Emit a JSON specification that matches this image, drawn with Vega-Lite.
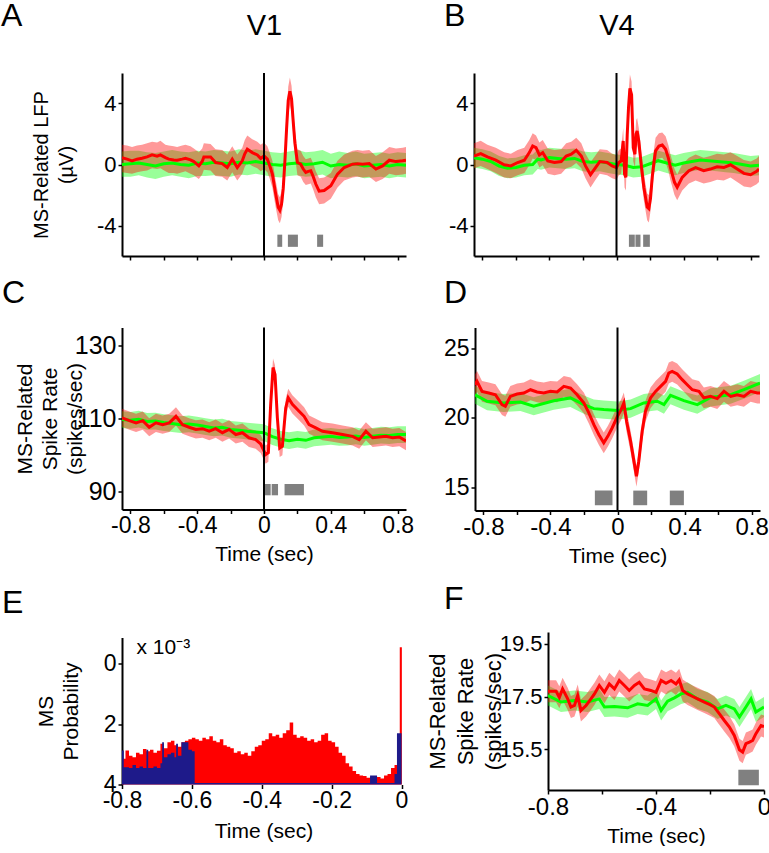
{
"$schema": "https://vega.github.io/schema/vega-lite/v6.json",
"background": "white",
"padding": {"left": 1, "top": 0, "right": 0, "bottom": 0},
"config": {
  "font": "Liberation Sans",
  "view": {"stroke": null},
  "axis": {"labelFont": "Liberation Sans", "titleFont": "Liberation Sans", "labelFontSize": 23, "titleFontSize": 21, "titleFontWeight": "normal", "labelColor": "black", "titleColor": "black", "domainColor": "black", "domainWidth": 2, "tickColor": "black", "tickWidth": 1.5, "tickSize": 4, "grid": false, "labelPadding": 1, "labelFlush": false, "labelOverlap": false},
  "title": {"font": "Liberation Sans", "fontSize": 32, "fontWeight": "normal", "color": "black", "anchor": "start", "frame": "group", "offset": 0},
  "text": {"font": "Liberation Sans"}
},
"datasets": {
  "A": [
    {"s":"r","t":-0.85,"m":0.45,"lo":-0.5,"hi":1.3},{"s":"r","t":-0.82,"m":0.35,"lo":-0.55,"hi":1.25},{"s":"r","t":-0.79,"m":0.24,"lo":-0.6,"hi":1.15},{"s":"r","t":-0.76,"m":0.35,"lo":-0.5,"hi":1.25},{"s":"r","t":-0.73,"m":0.41,"lo":-0.45,"hi":1.3},{"s":"r","t":-0.7,"m":0.5,"lo":-0.4,"hi":1.4},{"s":"r","t":-0.67,"m":0.63,"lo":-0.25,"hi":1.5},{"s":"r","t":-0.64,"m":0.55,"lo":-0.3,"hi":1.45},{"s":"r","t":-0.62,"m":0.63,"lo":-0.25,"hi":1.55},{"s":"r","t":-0.59,"m":0.45,"lo":-0.45,"hi":1.3},{"s":"r","t":-0.57,"m":0.35,"lo":-0.55,"hi":1.25},{"s":"r","t":-0.54,"m":0.3,"lo":-0.55,"hi":1.2},{"s":"r","t":-0.52,"m":0.28,"lo":-0.6,"hi":1.15},{"s":"r","t":-0.49,"m":0.35,"lo":-0.5,"hi":1.25},{"s":"r","t":-0.47,"m":0.41,"lo":-0.45,"hi":1.3},{"s":"r","t":-0.44,"m":0.3,"lo":-0.6,"hi":1.2},{"s":"r","t":-0.42,"m":0.19,"lo":-0.7,"hi":1.05},{"s":"r","t":-0.39,"m":-0.09,"lo":-0.95,"hi":0.8},{"s":"r","t":-0.37,"m":0.2,"lo":-0.65,"hi":1.05},{"s":"r","t":-0.36,"m":0.5,"lo":-0.35,"hi":1.4},{"s":"r","t":-0.32,"m":0.5,"lo":-0.4,"hi":1.35},{"s":"r","t":-0.29,"m":0.13,"lo":-0.75,"hi":1.0},{"s":"r","t":-0.25,"m":0.06,"lo":-0.8,"hi":0.95},{"s":"r","t":-0.22,"m":-0.2,"lo":-1.05,"hi":0.65},{"s":"r","t":-0.19,"m":0.35,"lo":-0.5,"hi":1.2},{"s":"r","t":-0.16,"m":-0.2,"lo":-1.05,"hi":0.65},{"s":"r","t":-0.13,"m":0.24,"lo":-0.6,"hi":1.1},{"s":"r","t":-0.115,"m":0.7,"lo":-0.15,"hi":1.6},{"s":"r","t":-0.1,"m":1.0,"lo":0.1,"hi":1.9},{"s":"r","t":-0.07,"m":0.78,"lo":-0.1,"hi":1.65},{"s":"r","t":-0.04,"m":0.63,"lo":-0.25,"hi":1.5},{"s":"r","t":-0.02,"m":0.4,"lo":-0.45,"hi":1.3},{"s":"r","t":0,"m":0.56,"lo":-0.3,"hi":1.45},{"s":"r","t":0.02,"m":0.35,"lo":-0.5,"hi":1.2},{"s":"r","t":0.035,"m":-0.1,"lo":-0.95,"hi":0.75},{"s":"r","t":0.05,"m":-0.63,"lo":-1.5,"hi":0.25},{"s":"r","t":0.07,"m":-1.93,"lo":-2.8,"hi":-1.05},{"s":"r","t":0.085,"m":-2.8,"lo":-3.65,"hi":-1.95},{"s":"r","t":0.095,"m":-3.0,"lo":-3.85,"hi":-2.15},{"s":"r","t":0.105,"m":-2.6,"lo":-3.45,"hi":-1.75},{"s":"r","t":0.115,"m":-1.6,"lo":-2.45,"hi":-0.75},{"s":"r","t":0.125,"m":0.2,"lo":-0.65,"hi":1.05},{"s":"r","t":0.135,"m":2.3,"lo":1.45,"hi":3.15},{"s":"r","t":0.145,"m":4.2,"lo":3.3,"hi":5.1},{"s":"r","t":0.155,"m":4.8,"lo":3.9,"hi":5.7},{"s":"r","t":0.165,"m":4.3,"lo":3.45,"hi":5.15},{"s":"r","t":0.175,"m":2.8,"lo":1.95,"hi":3.65},{"s":"r","t":0.185,"m":1.4,"lo":0.55,"hi":2.25},{"s":"r","t":0.2,"m":0.13,"lo":-0.7,"hi":1.0},{"s":"r","t":0.22,"m":0.02,"lo":-0.8,"hi":0.9},{"s":"r","t":0.235,"m":-0.3,"lo":-1.15,"hi":0.55},{"s":"r","t":0.25,"m":-0.52,"lo":-1.35,"hi":0.35},{"s":"r","t":0.265,"m":-0.45,"lo":-1.3,"hi":0.4},{"s":"r","t":0.28,"m":-0.41,"lo":-1.25,"hi":0.45},{"s":"r","t":0.295,"m":-0.8,"lo":-1.65,"hi":0.05},{"s":"r","t":0.31,"m":-1.28,"lo":-2.15,"hi":-0.45},{"s":"r","t":0.33,"m":-1.75,"lo":-2.6,"hi":-0.9},{"s":"r","t":0.36,"m":-1.71,"lo":-2.55,"hi":-0.85},{"s":"r","t":0.4,"m":-1.39,"lo":-2.25,"hi":-0.55},{"s":"r","t":0.44,"m":-0.63,"lo":-1.5,"hi":0.25},{"s":"r","t":0.48,"m":-0.2,"lo":-1.05,"hi":0.65},{"s":"r","t":0.53,"m":0.02,"lo":-0.85,"hi":0.9},{"s":"r","t":0.56,"m":0.05,"lo":-0.8,"hi":0.95},{"s":"r","t":0.59,"m":0.02,"lo":-0.85,"hi":0.9},{"s":"r","t":0.63,"m":0.06,"lo":-0.8,"hi":0.95},{"s":"r","t":0.67,"m":-0.3,"lo":-1.15,"hi":0.55},{"s":"r","t":0.71,"m":-0.09,"lo":-0.95,"hi":0.8},{"s":"r","t":0.75,"m":0.28,"lo":-0.6,"hi":1.15},{"s":"r","t":0.79,"m":0.19,"lo":-0.7,"hi":1.05},{"s":"r","t":0.83,"m":0.24,"lo":-0.65,"hi":1.1},{"s":"r","t":0.85,"m":0.28,"lo":-0.6,"hi":1.15},
    {"s":"g","t":-0.85,"m":0.0,"lo":-0.8,"hi":0.85},{"s":"g","t":-0.8,"m":0.05,"lo":-0.8,"hi":0.9},{"s":"g","t":-0.75,"m":0.1,"lo":-0.7,"hi":0.9},{"s":"g","t":-0.7,"m":0.0,"lo":-0.85,"hi":0.8},{"s":"g","t":-0.65,"m":-0.1,"lo":-0.95,"hi":0.75},{"s":"g","t":-0.6,"m":0.05,"lo":-0.8,"hi":0.85},{"s":"g","t":-0.55,"m":0.1,"lo":-0.7,"hi":0.95},{"s":"g","t":-0.5,"m":0.0,"lo":-0.8,"hi":0.85},{"s":"g","t":-0.45,"m":-0.05,"lo":-0.9,"hi":0.8},{"s":"g","t":-0.4,"m":0.1,"lo":-0.75,"hi":0.9},{"s":"g","t":-0.35,"m":0.05,"lo":-0.75,"hi":0.85},{"s":"g","t":-0.3,"m":0.15,"lo":-0.7,"hi":0.95},{"s":"g","t":-0.25,"m":0.1,"lo":-0.75,"hi":0.9},{"s":"g","t":-0.2,"m":0.05,"lo":-0.8,"hi":0.85},{"s":"g","t":-0.15,"m":0.15,"lo":-0.65,"hi":1.0},{"s":"g","t":-0.1,"m":0.1,"lo":-0.7,"hi":0.9},{"s":"g","t":-0.05,"m":0.2,"lo":-0.6,"hi":1.0},{"s":"g","t":0,"m":0.1,"lo":-0.7,"hi":0.9},{"s":"g","t":0.05,"m":0.0,"lo":-0.8,"hi":0.8},{"s":"g","t":0.1,"m":-0.05,"lo":-0.85,"hi":0.75},{"s":"g","t":0.15,"m":0.05,"lo":-0.75,"hi":0.85},{"s":"g","t":0.2,"m":0.1,"lo":-0.7,"hi":0.95},{"s":"g","t":0.25,"m":0.0,"lo":-0.8,"hi":0.8},{"s":"g","t":0.3,"m":0.05,"lo":-0.75,"hi":0.85},{"s":"g","t":0.35,"m":0.15,"lo":-0.65,"hi":0.95},{"s":"g","t":0.4,"m":-0.1,"lo":-0.9,"hi":0.7},{"s":"g","t":0.45,"m":0.0,"lo":-0.8,"hi":0.85},{"s":"g","t":0.5,"m":-0.05,"lo":-0.85,"hi":0.75},{"s":"g","t":0.55,"m":0.05,"lo":-0.75,"hi":0.85},{"s":"g","t":0.6,"m":-0.1,"lo":-0.9,"hi":0.7},{"s":"g","t":0.65,"m":-0.05,"lo":-0.85,"hi":0.75},{"s":"g","t":0.7,"m":0.0,"lo":-0.8,"hi":0.8},{"s":"g","t":0.75,"m":-0.1,"lo":-0.9,"hi":0.7},{"s":"g","t":0.8,"m":0.0,"lo":-0.8,"hi":0.8},{"s":"g","t":0.85,"m":-0.05,"lo":-0.85,"hi":0.75}
  ],
  "B": [
    {"s":"r","t":-0.85,"m":0.56,"lo":-0.25,"hi":1.4},{"s":"r","t":-0.81,"m":0.71,"lo":-0.1,"hi":1.55},{"s":"r","t":-0.77,"m":0.5,"lo":-0.3,"hi":1.3},{"s":"r","t":-0.72,"m":0.28,"lo":-0.55,"hi":1.1},{"s":"r","t":-0.67,"m":-0.02,"lo":-0.85,"hi":0.8},{"s":"r","t":-0.63,"m":-0.09,"lo":-0.9,"hi":0.7},{"s":"r","t":-0.59,"m":0.13,"lo":-0.7,"hi":0.95},{"s":"r","t":-0.55,"m":0.28,"lo":-0.55,"hi":1.1},{"s":"r","t":-0.52,"m":0.78,"lo":-0.05,"hi":1.6},{"s":"r","t":-0.5,"m":1.21,"lo":0.4,"hi":2.05},{"s":"r","t":-0.48,"m":1.1,"lo":0.3,"hi":1.9},{"s":"r","t":-0.46,"m":0.63,"lo":-0.2,"hi":1.45},{"s":"r","t":-0.44,"m":0.78,"lo":-0.05,"hi":1.6},{"s":"r","t":-0.41,"m":0.24,"lo":-0.6,"hi":1.05},{"s":"r","t":-0.37,"m":0.13,"lo":-0.7,"hi":0.95},{"s":"r","t":-0.33,"m":0.19,"lo":-0.6,"hi":1.0},{"s":"r","t":-0.3,"m":0.56,"lo":-0.25,"hi":1.4},{"s":"r","t":-0.27,"m":0.67,"lo":-0.15,"hi":1.5},{"s":"r","t":-0.24,"m":0.93,"lo":0.1,"hi":1.75},{"s":"r","t":-0.21,"m":0.56,"lo":-0.25,"hi":1.4},{"s":"r","t":-0.185,"m":-0.09,"lo":-0.9,"hi":0.7},{"s":"r","t":-0.155,"m":-0.67,"lo":-1.5,"hi":0.15},{"s":"r","t":-0.125,"m":-0.2,"lo":-1.0,"hi":0.6},{"s":"r","t":-0.1,"m":0.19,"lo":-0.6,"hi":1.0},{"s":"r","t":-0.056,"m":0.13,"lo":-0.7,"hi":0.95},{"s":"r","t":-0.026,"m":-0.09,"lo":-0.9,"hi":0.7},{"s":"r","t":0,"m":-0.2,"lo":-1.0,"hi":0.6},{"s":"r","t":0.014,"m":0.13,"lo":-0.7,"hi":0.95},{"s":"r","t":0.028,"m":0.24,"lo":-0.6,"hi":1.05},{"s":"r","t":0.04,"m":1.54,"lo":0.7,"hi":2.4},{"s":"r","t":0.048,"m":-0.63,"lo":-1.5,"hi":0.25},{"s":"r","t":0.056,"m":-0.84,"lo":-1.7,"hi":0.0},{"s":"r","t":0.064,"m":1.97,"lo":1.1,"hi":2.85},{"s":"r","t":0.072,"m":3.8,"lo":2.9,"hi":4.7},{"s":"r","t":0.08,"m":5.0,"lo":4.1,"hi":5.9},{"s":"r","t":0.09,"m":4.57,"lo":3.7,"hi":5.45},{"s":"r","t":0.1,"m":1.1,"lo":0.2,"hi":2.0},{"s":"r","t":0.11,"m":0.67,"lo":-0.2,"hi":1.55},{"s":"r","t":0.117,"m":2.0,"lo":1.1,"hi":2.9},{"s":"r","t":0.123,"m":2.19,"lo":1.3,"hi":3.05},{"s":"r","t":0.133,"m":1.54,"lo":0.7,"hi":2.4},{"s":"r","t":0.147,"m":0.02,"lo":-0.85,"hi":0.9},{"s":"r","t":0.163,"m":-1.49,"lo":-2.35,"hi":-0.6},{"s":"r","t":0.183,"m":-2.79,"lo":-3.65,"hi":-1.9},{"s":"r","t":0.193,"m":-2.9,"lo":-3.8,"hi":-2.0},{"s":"r","t":0.203,"m":-2.2,"lo":-3.05,"hi":-1.3},{"s":"r","t":0.213,"m":-0.84,"lo":-1.7,"hi":0.0},{"s":"r","t":0.223,"m":0.1,"lo":-0.75,"hi":0.95},{"s":"r","t":0.233,"m":0.89,"lo":0.05,"hi":1.75},{"s":"r","t":0.253,"m":1.21,"lo":0.4,"hi":2.05},{"s":"r","t":0.273,"m":1.28,"lo":0.45,"hi":2.1},{"s":"r","t":0.293,"m":1.0,"lo":0.15,"hi":1.85},{"s":"r","t":0.31,"m":0.4,"lo":-0.45,"hi":1.25},{"s":"r","t":0.322,"m":-0.2,"lo":-1.05,"hi":0.65},{"s":"r","t":0.346,"m":-1.17,"lo":-2.0,"hi":-0.3},{"s":"r","t":0.362,"m":-1.49,"lo":-2.35,"hi":-0.65},{"s":"r","t":0.392,"m":-0.84,"lo":-1.7,"hi":0.0},{"s":"r","t":0.432,"m":-0.41,"lo":-1.25,"hi":0.45},{"s":"r","t":0.472,"m":-0.2,"lo":-1.05,"hi":0.65},{"s":"r","t":0.52,"m":-0.41,"lo":-1.25,"hi":0.45},{"s":"r","t":0.56,"m":-0.3,"lo":-1.15,"hi":0.55},{"s":"r","t":0.6,"m":-0.15,"lo":-1.0,"hi":0.7},{"s":"r","t":0.64,"m":-0.2,"lo":-1.05,"hi":0.65},{"s":"r","t":0.68,"m":-0.02,"lo":-0.85,"hi":0.8},{"s":"r","t":0.72,"m":-0.3,"lo":-1.15,"hi":0.55},{"s":"r","t":0.76,"m":-0.58,"lo":-1.45,"hi":0.3},{"s":"r","t":0.8,"m":-0.67,"lo":-1.5,"hi":0.2},{"s":"r","t":0.836,"m":-0.45,"lo":-1.3,"hi":0.4},{"s":"r","t":0.85,"m":-0.3,"lo":-1.15,"hi":0.55},
    {"s":"g","t":-0.85,"m":0.45,"lo":-0.2,"hi":1.1},{"s":"g","t":-0.8,"m":0.35,"lo":-0.3,"hi":1.0},{"s":"g","t":-0.75,"m":0.2,"lo":-0.45,"hi":0.85},{"s":"g","t":-0.7,"m":-0.1,"lo":-0.75,"hi":0.55},{"s":"g","t":-0.65,"m":-0.25,"lo":-0.9,"hi":0.4},{"s":"g","t":-0.6,"m":-0.2,"lo":-0.85,"hi":0.45},{"s":"g","t":-0.55,"m":-0.05,"lo":-0.7,"hi":0.6},{"s":"g","t":-0.5,"m":0.0,"lo":-0.65,"hi":0.65},{"s":"g","t":-0.47,"m":0.35,"lo":-0.3,"hi":1.0},{"s":"g","t":-0.45,"m":0.3,"lo":-0.35,"hi":0.95},{"s":"g","t":-0.4,"m":0.45,"lo":-0.2,"hi":1.1},{"s":"g","t":-0.35,"m":0.4,"lo":-0.25,"hi":1.05},{"s":"g","t":-0.3,"m":0.35,"lo":-0.3,"hi":1.0},{"s":"g","t":-0.25,"m":0.4,"lo":-0.25,"hi":1.05},{"s":"g","t":-0.2,"m":0.2,"lo":-0.45,"hi":0.85},{"s":"g","t":-0.15,"m":0.15,"lo":-0.5,"hi":0.8},{"s":"g","t":-0.1,"m":0.2,"lo":-0.45,"hi":0.85},{"s":"g","t":-0.05,"m":0.1,"lo":-0.55,"hi":0.75},{"s":"g","t":0,"m":0.0,"lo":-0.65,"hi":0.65},{"s":"g","t":0.05,"m":-0.05,"lo":-0.7,"hi":0.6},{"s":"g","t":0.1,"m":-0.2,"lo":-0.85,"hi":0.45},{"s":"g","t":0.15,"m":-0.15,"lo":-0.8,"hi":0.5},{"s":"g","t":0.2,"m":0.05,"lo":-0.6,"hi":0.7},{"s":"g","t":0.25,"m":0.25,"lo":-0.4,"hi":0.9},{"s":"g","t":0.3,"m":0.1,"lo":-0.55,"hi":0.75},{"s":"g","t":0.35,"m":-0.05,"lo":-0.7,"hi":0.6},{"s":"g","t":0.4,"m":0.1,"lo":-0.55,"hi":0.75},{"s":"g","t":0.45,"m":0.2,"lo":-0.45,"hi":0.85},{"s":"g","t":0.5,"m":0.3,"lo":-0.35,"hi":0.95},{"s":"g","t":0.55,"m":0.25,"lo":-0.4,"hi":0.9},{"s":"g","t":0.6,"m":0.2,"lo":-0.45,"hi":0.85},{"s":"g","t":0.65,"m":0.15,"lo":-0.5,"hi":0.8},{"s":"g","t":0.7,"m":0.1,"lo":-0.55,"hi":0.75},{"s":"g","t":0.75,"m":0.0,"lo":-0.65,"hi":0.65},{"s":"g","t":0.8,"m":-0.1,"lo":-0.75,"hi":0.55},{"s":"g","t":0.85,"m":-0.05,"lo":-0.7,"hi":0.6}
  ],
  "C": [
    {"s":"r","t":-0.85,"m":110.2,"lo":107.7,"hi":112.7},{"s":"r","t":-0.806,"m":109.4,"lo":106.9,"hi":111.9},{"s":"r","t":-0.766,"m":108.8,"lo":106.3,"hi":111.3},{"s":"r","t":-0.726,"m":109.4,"lo":106.9,"hi":111.9},{"s":"r","t":-0.687,"m":107.6,"lo":105.1,"hi":110.1},{"s":"r","t":-0.647,"m":108.8,"lo":106.3,"hi":111.3},{"s":"r","t":-0.607,"m":108.3,"lo":105.8,"hi":110.8},{"s":"r","t":-0.567,"m":108.8,"lo":106.3,"hi":111.3},{"s":"r","t":-0.527,"m":110.6,"lo":108.1,"hi":113.1},{"s":"r","t":-0.488,"m":108.3,"lo":105.8,"hi":110.8},{"s":"r","t":-0.448,"m":107.6,"lo":105.1,"hi":110.1},{"s":"r","t":-0.408,"m":107.0,"lo":104.5,"hi":109.5},{"s":"r","t":-0.368,"m":107.2,"lo":104.7,"hi":109.7},{"s":"r","t":-0.328,"m":106.5,"lo":104.0,"hi":109.0},{"s":"r","t":-0.289,"m":107.2,"lo":104.7,"hi":109.7},{"s":"r","t":-0.249,"m":106.1,"lo":103.6,"hi":108.6},{"s":"r","t":-0.209,"m":107.0,"lo":104.5,"hi":109.5},{"s":"r","t":-0.169,"m":105.6,"lo":103.1,"hi":108.1},{"s":"r","t":-0.129,"m":106.1,"lo":103.6,"hi":108.6},{"s":"r","t":-0.09,"m":104.7,"lo":102.2,"hi":107.2},{"s":"r","t":-0.05,"m":104.2,"lo":101.7,"hi":106.7},{"s":"r","t":-0.02,"m":103.0,"lo":100.5,"hi":105.5},{"s":"r","t":0.01,"m":100.1,"lo":97.6,"hi":102.6},{"s":"r","t":0.026,"m":100.6,"lo":98.1,"hi":103.1},{"s":"r","t":0.04,"m":113.9,"lo":111.4,"hi":116.4},{"s":"r","t":0.054,"m":124.0,"lo":121.5,"hi":126.5},{"s":"r","t":0.066,"m":122.1,"lo":119.6,"hi":124.6},{"s":"r","t":0.08,"m":110.2,"lo":107.7,"hi":112.7},{"s":"r","t":0.094,"m":101.9,"lo":99.4,"hi":104.4},{"s":"r","t":0.11,"m":102.4,"lo":99.9,"hi":104.9},{"s":"r","t":0.13,"m":112.9,"lo":110.4,"hi":115.4},{"s":"r","t":0.145,"m":115.7,"lo":113.2,"hi":118.2},{"s":"r","t":0.17,"m":113.9,"lo":111.4,"hi":116.4},{"s":"r","t":0.21,"m":112.0,"lo":109.5,"hi":114.5},{"s":"r","t":0.24,"m":110.6,"lo":108.1,"hi":113.1},{"s":"r","t":0.27,"m":108.3,"lo":105.8,"hi":110.8},{"s":"r","t":0.31,"m":107.4,"lo":104.9,"hi":109.9},{"s":"r","t":0.35,"m":106.5,"lo":104.0,"hi":109.0},{"s":"r","t":0.41,"m":106.1,"lo":103.6,"hi":108.6},{"s":"r","t":0.47,"m":105.6,"lo":103.1,"hi":108.1},{"s":"r","t":0.53,"m":105.1,"lo":102.6,"hi":107.6},{"s":"r","t":0.57,"m":104.2,"lo":101.7,"hi":106.7},{"s":"r","t":0.61,"m":106.5,"lo":104.0,"hi":109.0},{"s":"r","t":0.65,"m":104.7,"lo":102.2,"hi":107.2},{"s":"r","t":0.69,"m":104.9,"lo":102.4,"hi":107.4},{"s":"r","t":0.73,"m":105.1,"lo":102.6,"hi":107.6},{"s":"r","t":0.77,"m":104.7,"lo":102.2,"hi":107.2},{"s":"r","t":0.81,"m":104.9,"lo":102.4,"hi":107.4},{"s":"r","t":0.85,"m":103.8,"lo":101.3,"hi":106.3},
    {"s":"g","t":-0.85,"m":109.7,"lo":107.4,"hi":112.0},{"s":"g","t":-0.8,"m":109.5,"lo":107.2,"hi":111.8},{"s":"g","t":-0.75,"m":109.8,"lo":107.5,"hi":112.1},{"s":"g","t":-0.7,"m":109.2,"lo":106.9,"hi":111.5},{"s":"g","t":-0.65,"m":109.3,"lo":107.0,"hi":111.6},{"s":"g","t":-0.6,"m":108.9,"lo":106.6,"hi":111.2},{"s":"g","t":-0.55,"m":108.6,"lo":106.3,"hi":110.9},{"s":"g","t":-0.5,"m":108.3,"lo":106.0,"hi":110.6},{"s":"g","t":-0.45,"m":108.5,"lo":106.2,"hi":110.8},{"s":"g","t":-0.4,"m":108.2,"lo":105.9,"hi":110.5},{"s":"g","t":-0.35,"m":107.8,"lo":105.5,"hi":110.1},{"s":"g","t":-0.3,"m":107.4,"lo":105.1,"hi":109.7},{"s":"g","t":-0.25,"m":107.6,"lo":105.3,"hi":109.9},{"s":"g","t":-0.2,"m":107.0,"lo":104.7,"hi":109.3},{"s":"g","t":-0.15,"m":106.8,"lo":104.5,"hi":109.1},{"s":"g","t":-0.1,"m":106.5,"lo":104.2,"hi":108.8},{"s":"g","t":-0.05,"m":106.3,"lo":104.0,"hi":108.6},{"s":"g","t":0,"m":106.1,"lo":103.8,"hi":108.4},{"s":"g","t":0.05,"m":105.0,"lo":102.7,"hi":107.3},{"s":"g","t":0.1,"m":104.3,"lo":102.0,"hi":106.6},{"s":"g","t":0.15,"m":103.9,"lo":101.6,"hi":106.2},{"s":"g","t":0.2,"m":104.3,"lo":102.0,"hi":106.6},{"s":"g","t":0.25,"m":104.0,"lo":101.7,"hi":106.3},{"s":"g","t":0.3,"m":104.7,"lo":102.4,"hi":107.0},{"s":"g","t":0.35,"m":104.9,"lo":102.6,"hi":107.2},{"s":"g","t":0.4,"m":105.1,"lo":102.8,"hi":107.4},{"s":"g","t":0.45,"m":104.8,"lo":102.5,"hi":107.1},{"s":"g","t":0.5,"m":104.9,"lo":102.6,"hi":107.2},{"s":"g","t":0.55,"m":105.2,"lo":102.9,"hi":107.5},{"s":"g","t":0.6,"m":104.8,"lo":102.5,"hi":107.1},{"s":"g","t":0.65,"m":105.1,"lo":102.8,"hi":107.4},{"s":"g","t":0.7,"m":105.4,"lo":103.1,"hi":107.7},{"s":"g","t":0.75,"m":105.3,"lo":103.0,"hi":107.6},{"s":"g","t":0.8,"m":105.6,"lo":103.3,"hi":107.9},{"s":"g","t":0.85,"m":105.6,"lo":103.3,"hi":107.9}
  ],
  "D": [
    {"s":"r","t":-0.85,"m":22.39,"lo":21.64,"hi":23.14},{"s":"r","t":-0.838,"m":22.63,"lo":21.88,"hi":23.38},{"s":"r","t":-0.808,"m":21.91,"lo":21.16,"hi":22.66},{"s":"r","t":-0.768,"m":21.79,"lo":21.04,"hi":22.54},{"s":"r","t":-0.728,"m":21.67,"lo":20.92,"hi":22.42},{"s":"r","t":-0.689,"m":20.96,"lo":20.21,"hi":21.71},{"s":"r","t":-0.669,"m":20.84,"lo":20.09,"hi":21.59},{"s":"r","t":-0.639,"m":21.55,"lo":20.8,"hi":22.3},{"s":"r","t":-0.599,"m":21.72,"lo":20.97,"hi":22.47},{"s":"r","t":-0.559,"m":21.79,"lo":21.04,"hi":22.54},{"s":"r","t":-0.519,"m":22.03,"lo":21.28,"hi":22.78},{"s":"r","t":-0.48,"m":21.87,"lo":21.12,"hi":22.62},{"s":"r","t":-0.44,"m":21.79,"lo":21.04,"hi":22.54},{"s":"r","t":-0.4,"m":21.91,"lo":21.16,"hi":22.66},{"s":"r","t":-0.36,"m":21.87,"lo":21.12,"hi":22.62},{"s":"r","t":-0.32,"m":22.27,"lo":21.52,"hi":23.02},{"s":"r","t":-0.28,"m":22.15,"lo":21.4,"hi":22.9},{"s":"r","t":-0.241,"m":21.67,"lo":20.92,"hi":22.42},{"s":"r","t":-0.201,"m":21.08,"lo":20.33,"hi":21.83},{"s":"r","t":-0.171,"m":20.36,"lo":19.61,"hi":21.11},{"s":"r","t":-0.141,"m":19.52,"lo":18.77,"hi":20.27},{"s":"r","t":-0.111,"m":18.8,"lo":18.05,"hi":19.55},{"s":"r","t":-0.082,"m":18.21,"lo":17.46,"hi":18.96},{"s":"r","t":-0.058,"m":18.68,"lo":17.93,"hi":19.43},{"s":"r","t":-0.032,"m":19.28,"lo":18.53,"hi":20.03},{"s":"r","t":0,"m":20.12,"lo":19.37,"hi":20.87},{"s":"r","t":0.022,"m":20.6,"lo":19.85,"hi":21.35},{"s":"r","t":0.038,"m":21.08,"lo":20.33,"hi":21.83},{"s":"r","t":0.054,"m":19.76,"lo":19.01,"hi":20.51},{"s":"r","t":0.078,"m":18.33,"lo":17.58,"hi":19.08},{"s":"r","t":0.098,"m":16.89,"lo":16.14,"hi":17.64},{"s":"r","t":0.113,"m":15.81,"lo":15.06,"hi":16.56},{"s":"r","t":0.127,"m":16.89,"lo":16.14,"hi":17.64},{"s":"r","t":0.147,"m":19.04,"lo":18.29,"hi":19.79},{"s":"r","t":0.167,"m":20.48,"lo":19.73,"hi":21.23},{"s":"r","t":0.197,"m":21.44,"lo":20.69,"hi":22.19},{"s":"r","t":0.227,"m":21.91,"lo":21.16,"hi":22.66},{"s":"r","t":0.257,"m":22.27,"lo":21.52,"hi":23.02},{"s":"r","t":0.287,"m":22.63,"lo":21.88,"hi":23.38},{"s":"r","t":0.306,"m":23.23,"lo":22.48,"hi":23.98},{"s":"r","t":0.326,"m":23.35,"lo":22.6,"hi":24.1},{"s":"r","t":0.356,"m":23.16,"lo":22.41,"hi":23.91},{"s":"r","t":0.386,"m":22.75,"lo":22.0,"hi":23.5},{"s":"r","t":0.416,"m":22.39,"lo":21.64,"hi":23.14},{"s":"r","t":0.446,"m":22.03,"lo":21.28,"hi":22.78},{"s":"r","t":0.486,"m":21.91,"lo":21.16,"hi":22.66},{"s":"r","t":0.515,"m":21.44,"lo":20.69,"hi":22.19},{"s":"r","t":0.555,"m":21.55,"lo":20.8,"hi":22.3},{"s":"r","t":0.595,"m":21.39,"lo":20.64,"hi":22.14},{"s":"r","t":0.635,"m":21.91,"lo":21.16,"hi":22.66},{"s":"r","t":0.675,"m":21.55,"lo":20.8,"hi":22.3},{"s":"r","t":0.714,"m":21.67,"lo":20.92,"hi":22.42},{"s":"r","t":0.754,"m":21.55,"lo":20.8,"hi":22.3},{"s":"r","t":0.794,"m":21.91,"lo":21.16,"hi":22.66},{"s":"r","t":0.834,"m":21.79,"lo":21.04,"hi":22.54},{"s":"r","t":0.85,"m":21.79,"lo":21.04,"hi":22.54},
    {"s":"g","t":-0.85,"m":21.67,"lo":21.02,"hi":22.32},{"s":"g","t":-0.778,"m":21.2,"lo":20.55,"hi":21.85},{"s":"g","t":-0.679,"m":21.08,"lo":20.43,"hi":21.73},{"s":"g","t":-0.579,"m":21.15,"lo":20.5,"hi":21.8},{"s":"g","t":-0.5,"m":20.84,"lo":20.19,"hi":21.49},{"s":"g","t":-0.38,"m":21.24,"lo":20.59,"hi":21.89},{"s":"g","t":-0.281,"m":21.44,"lo":20.79,"hi":22.09},{"s":"g","t":-0.201,"m":20.96,"lo":20.31,"hi":21.61},{"s":"g","t":-0.141,"m":20.67,"lo":20.02,"hi":21.32},{"s":"g","t":-0.082,"m":20.6,"lo":19.95,"hi":21.25},{"s":"g","t":0,"m":20.53,"lo":19.88,"hi":21.18},{"s":"g","t":0.078,"m":20.67,"lo":20.02,"hi":21.32},{"s":"g","t":0.157,"m":21.08,"lo":20.43,"hi":21.73},{"s":"g","t":0.237,"m":21.2,"lo":20.55,"hi":21.85},{"s":"g","t":0.277,"m":20.96,"lo":20.31,"hi":21.61},{"s":"g","t":0.316,"m":21.63,"lo":20.98,"hi":22.28},{"s":"g","t":0.396,"m":21.24,"lo":20.59,"hi":21.89},{"s":"g","t":0.476,"m":20.96,"lo":20.31,"hi":21.61},{"s":"g","t":0.555,"m":21.48,"lo":20.83,"hi":22.13},{"s":"g","t":0.675,"m":21.67,"lo":21.02,"hi":22.32},{"s":"g","t":0.754,"m":22.03,"lo":21.38,"hi":22.68},{"s":"g","t":0.85,"m":22.51,"lo":21.86,"hi":23.16}
  ],
  "F": [
    {"s":"r","t":-0.8,"m":17.7,"lo":17.28,"hi":18.12},{"s":"r","t":-0.77,"m":17.7,"lo":17.28,"hi":18.12},{"s":"r","t":-0.758,"m":17.47,"lo":17.05,"hi":17.89},{"s":"r","t":-0.746,"m":17.79,"lo":17.37,"hi":18.21},{"s":"r","t":-0.727,"m":17.41,"lo":16.99,"hi":17.83},{"s":"r","t":-0.715,"m":17.1,"lo":16.68,"hi":17.52},{"s":"r","t":-0.702,"m":17.16,"lo":16.74,"hi":17.58},{"s":"r","t":-0.69,"m":17.54,"lo":17.12,"hi":17.96},{"s":"r","t":-0.678,"m":16.97,"lo":16.55,"hi":17.39},{"s":"r","t":-0.659,"m":17.16,"lo":16.74,"hi":17.58},{"s":"r","t":-0.641,"m":17.41,"lo":16.99,"hi":17.83},{"s":"r","t":-0.628,"m":17.6,"lo":17.18,"hi":18.02},{"s":"r","t":-0.61,"m":17.92,"lo":17.5,"hi":18.34},{"s":"r","t":-0.591,"m":17.66,"lo":17.24,"hi":18.08},{"s":"r","t":-0.573,"m":17.98,"lo":17.56,"hi":18.4},{"s":"r","t":-0.554,"m":17.79,"lo":17.37,"hi":18.21},{"s":"r","t":-0.536,"m":18.11,"lo":17.69,"hi":18.53},{"s":"r","t":-0.517,"m":17.92,"lo":17.5,"hi":18.34},{"s":"r","t":-0.499,"m":17.73,"lo":17.31,"hi":18.15},{"s":"r","t":-0.48,"m":17.92,"lo":17.5,"hi":18.34},{"s":"r","t":-0.462,"m":18.04,"lo":17.62,"hi":18.46},{"s":"r","t":-0.443,"m":17.79,"lo":17.37,"hi":18.21},{"s":"r","t":-0.419,"m":17.73,"lo":17.31,"hi":18.15},{"s":"r","t":-0.4,"m":17.66,"lo":17.24,"hi":18.08},{"s":"r","t":-0.381,"m":18.11,"lo":17.69,"hi":18.53},{"s":"r","t":-0.363,"m":18.0,"lo":17.58,"hi":18.42},{"s":"r","t":-0.344,"m":18.11,"lo":17.69,"hi":18.53},{"s":"r","t":-0.326,"m":17.98,"lo":17.56,"hi":18.4},{"s":"r","t":-0.314,"m":18.13,"lo":17.71,"hi":18.55},{"s":"r","t":-0.301,"m":17.73,"lo":17.31,"hi":18.15},{"s":"r","t":-0.283,"m":17.6,"lo":17.18,"hi":18.02},{"s":"r","t":-0.264,"m":17.5,"lo":17.08,"hi":17.92},{"s":"r","t":-0.246,"m":17.41,"lo":16.99,"hi":17.83},{"s":"r","t":-0.221,"m":17.29,"lo":16.87,"hi":17.71},{"s":"r","t":-0.202,"m":17.2,"lo":16.78,"hi":17.62},{"s":"r","t":-0.184,"m":17.1,"lo":16.68,"hi":17.52},{"s":"r","t":-0.165,"m":16.84,"lo":16.42,"hi":17.26},{"s":"r","t":-0.147,"m":16.59,"lo":16.17,"hi":17.01},{"s":"r","t":-0.128,"m":16.34,"lo":15.92,"hi":16.76},{"s":"r","t":-0.11,"m":16.02,"lo":15.6,"hi":16.44},{"s":"r","t":-0.091,"m":15.48,"lo":15.06,"hi":15.9},{"s":"r","t":-0.079,"m":15.39,"lo":14.97,"hi":15.81},{"s":"r","t":-0.067,"m":15.71,"lo":15.29,"hi":16.13},{"s":"r","t":-0.054,"m":15.77,"lo":15.35,"hi":16.19},{"s":"r","t":-0.042,"m":15.83,"lo":15.41,"hi":16.25},{"s":"r","t":-0.03,"m":16.09,"lo":15.67,"hi":16.51},{"s":"r","t":-0.011,"m":16.4,"lo":15.98,"hi":16.82},{"s":"r","t":0,"m":16.36,"lo":15.94,"hi":16.78},
    {"s":"g","t":-0.8,"m":17.54,"lo":17.16,"hi":17.92},{"s":"g","t":-0.752,"m":17.29,"lo":16.91,"hi":17.67},{"s":"g","t":-0.702,"m":17.35,"lo":16.97,"hi":17.73},{"s":"g","t":-0.653,"m":17.29,"lo":16.91,"hi":17.67},{"s":"g","t":-0.61,"m":17.41,"lo":17.03,"hi":17.79},{"s":"g","t":-0.591,"m":17.1,"lo":16.72,"hi":17.48},{"s":"g","t":-0.554,"m":17.12,"lo":16.74,"hi":17.5},{"s":"g","t":-0.505,"m":17.07,"lo":16.69,"hi":17.45},{"s":"g","t":-0.468,"m":17.22,"lo":16.84,"hi":17.6},{"s":"g","t":-0.431,"m":17.16,"lo":16.78,"hi":17.54},{"s":"g","t":-0.4,"m":17.41,"lo":17.03,"hi":17.79},{"s":"g","t":-0.381,"m":16.97,"lo":16.59,"hi":17.35},{"s":"g","t":-0.357,"m":17.32,"lo":16.94,"hi":17.7},{"s":"g","t":-0.332,"m":17.45,"lo":17.07,"hi":17.83},{"s":"g","t":-0.307,"m":17.6,"lo":17.22,"hi":17.98},{"s":"g","t":-0.283,"m":17.66,"lo":17.28,"hi":18.04},{"s":"g","t":-0.246,"m":17.41,"lo":17.03,"hi":17.79},{"s":"g","t":-0.209,"m":17.29,"lo":16.91,"hi":17.67},{"s":"g","t":-0.172,"m":17.03,"lo":16.65,"hi":17.41},{"s":"g","t":-0.141,"m":17.16,"lo":16.78,"hi":17.54},{"s":"g","t":-0.11,"m":17.03,"lo":16.65,"hi":17.41},{"s":"g","t":-0.091,"m":16.72,"lo":16.34,"hi":17.1},{"s":"g","t":-0.067,"m":17.1,"lo":16.72,"hi":17.48},{"s":"g","t":-0.048,"m":17.41,"lo":17.03,"hi":17.79},{"s":"g","t":-0.03,"m":16.91,"lo":16.53,"hi":17.29},{"s":"g","t":0,"m":17.1,"lo":16.72,"hi":17.48}
  ],
  "E": [
    {"s":"r","t":-0.8,"v":3.15},{"s":"r","t":-0.79,"v":2.87},{"s":"r","t":-0.78,"v":3.05},{"s":"r","t":-0.77,"v":3.1},{"s":"r","t":-0.76,"v":2.95},{"s":"r","t":-0.75,"v":3.0},{"s":"r","t":-0.74,"v":2.82},{"s":"r","t":-0.73,"v":2.9},{"s":"r","t":-0.72,"v":2.85},{"s":"r","t":-0.71,"v":2.95},{"s":"r","t":-0.7,"v":2.88},{"s":"r","t":-0.69,"v":2.65},{"s":"r","t":-0.68,"v":2.8},{"s":"r","t":-0.67,"v":2.6},{"s":"r","t":-0.66,"v":2.55},{"s":"r","t":-0.65,"v":2.7},{"s":"r","t":-0.64,"v":2.75},{"s":"r","t":-0.63,"v":2.6},{"s":"r","t":-0.62,"v":2.55},{"s":"r","t":-0.61,"v":2.5},{"s":"r","t":-0.6,"v":2.45},{"s":"r","t":-0.59,"v":2.5},{"s":"r","t":-0.58,"v":2.55},{"s":"r","t":-0.57,"v":2.45},{"s":"r","t":-0.56,"v":2.5},{"s":"r","t":-0.55,"v":2.4},{"s":"r","t":-0.54,"v":2.55},{"s":"r","t":-0.53,"v":2.6},{"s":"r","t":-0.52,"v":2.5},{"s":"r","t":-0.51,"v":2.7},{"s":"r","t":-0.5,"v":2.75},{"s":"r","t":-0.49,"v":2.8},{"s":"r","t":-0.48,"v":2.95},{"s":"r","t":-0.47,"v":2.9},{"s":"r","t":-0.46,"v":3.0},{"s":"r","t":-0.45,"v":2.95},{"s":"r","t":-0.44,"v":3.05},{"s":"r","t":-0.43,"v":2.9},{"s":"r","t":-0.42,"v":2.75},{"s":"r","t":-0.41,"v":2.7},{"s":"r","t":-0.4,"v":2.55},{"s":"r","t":-0.39,"v":2.5},{"s":"r","t":-0.38,"v":2.3},{"s":"r","t":-0.37,"v":2.4},{"s":"r","t":-0.36,"v":2.35},{"s":"r","t":-0.35,"v":2.45},{"s":"r","t":-0.34,"v":2.3},{"s":"r","t":-0.33,"v":2.2},{"s":"r","t":-0.32,"v":1.95},{"s":"r","t":-0.31,"v":2.35},{"s":"r","t":-0.3,"v":2.45},{"s":"r","t":-0.29,"v":2.4},{"s":"r","t":-0.28,"v":2.45},{"s":"r","t":-0.27,"v":2.55},{"s":"r","t":-0.26,"v":2.5},{"s":"r","t":-0.25,"v":2.6},{"s":"r","t":-0.24,"v":2.55},{"s":"r","t":-0.23,"v":2.35},{"s":"r","t":-0.22,"v":2.3},{"s":"r","t":-0.21,"v":2.55},{"s":"r","t":-0.2,"v":2.6},{"s":"r","t":-0.19,"v":2.75},{"s":"r","t":-0.18,"v":2.95},{"s":"r","t":-0.17,"v":3.05},{"s":"r","t":-0.16,"v":3.3},{"s":"r","t":-0.15,"v":3.4},{"s":"r","t":-0.14,"v":3.55},{"s":"r","t":-0.13,"v":3.65},{"s":"r","t":-0.12,"v":3.7},{"s":"r","t":-0.11,"v":3.72},{"s":"r","t":-0.1,"v":3.78},{"s":"r","t":-0.09,"v":3.75},{"s":"r","t":-0.08,"v":3.78},{"s":"r","t":-0.07,"v":3.75},{"s":"r","t":-0.06,"v":3.8},{"s":"r","t":-0.05,"v":3.7},{"s":"r","t":-0.04,"v":3.65},{"s":"r","t":-0.03,"v":3.45},{"s":"r","t":-0.02,"v":3.35},{"s":"r","t":-0.01,"v":3.55},{"s":"r","t":-0.005,"v":-0.55},{"s":"r","t":0.001,"v":-0.55},
    {"s":"b","t":-0.8,"v":2.87},{"s":"b","t":-0.795,"v":3.43},{"s":"b","t":-0.78,"v":3.45},{"s":"b","t":-0.77,"v":3.35},{"s":"b","t":-0.76,"v":3.45},{"s":"b","t":-0.75,"v":3.4},{"s":"b","t":-0.74,"v":3.45},{"s":"b","t":-0.73,"v":2.85},{"s":"b","t":-0.725,"v":3.45},{"s":"b","t":-0.71,"v":3.4},{"s":"b","t":-0.7,"v":3.45},{"s":"b","t":-0.69,"v":3.3},{"s":"b","t":-0.685,"v":2.6},{"s":"b","t":-0.68,"v":3.1},{"s":"b","t":-0.67,"v":3.0},{"s":"b","t":-0.66,"v":2.95},{"s":"b","t":-0.65,"v":3.1},{"s":"b","t":-0.645,"v":2.65},{"s":"b","t":-0.64,"v":3.05},{"s":"b","t":-0.63,"v":2.6},{"s":"b","t":-0.62,"v":2.6},{"s":"b","t":-0.61,"v":2.85},{"s":"b","t":-0.6,"v":2.9},{"s":"b","t":-0.592,"v":3.95},{"s":"b","t":-0.09,"v":3.7},{"s":"b","t":-0.07,"v":3.95},{"s":"b","t":-0.02,"v":3.65},{"s":"b","t":-0.013,"v":2.3},{"s":"b","t":0.0,"v":2.3}
  ],
  "sA": [{"t":0.08,"t2":0.109},{"t":0.143,"t2":0.203},{"t":0.318,"t2":0.354}],
  "sB": [{"t":0.074,"t2":0.109},{"t":0.113,"t2":0.143},{"t":0.159,"t2":0.199}],
  "sC": [{"t":0.004,"t2":0.04},{"t":0.046,"t2":0.084},{"t":0.123,"t2":0.239}],
  "sD": [{"t":-0.135,"t2":-0.03},{"t":0.094,"t2":0.177},{"t":0.312,"t2":0.396}],
  "sF": [{"t":-0.095,"t2":-0.019}]
},
"vconcat": [
  {"hconcat": [
    {"width": 284, "height": 183, "title": {"text": "A", "dx": -121, "dy": 25.5},
     "data": {"name": "A"},
     "encoding": {"x": {"field": "t", "type": "quantitative", "scale": {"domain": [-0.85, 0.85], "nice": false, "zero": false}, "axis": null}},
     "layer": [
      {"transform": [{"filter": "datum.s=='g'"}], "mark": {"type": "area", "color": "#00ff00", "opacity": 0.4, "clip": true},
       "encoding": {"x": {"field": "t", "type": "quantitative", "scale": {"domain": [-0.85, 0.85], "nice": false, "zero": false}, "axis": {"values": [-0.8,-0.6,-0.4,-0.2,0,0.2,0.4,0.6,0.8], "labels": false, "title": null}},
        "y": {"field": "lo", "type": "quantitative", "scale": {"domain": [-6, 6], "nice": false, "zero": false}, "axis": {"values": [-4, 0, 4], "title": ["MS-Related LFP", "(µV)"], "titleFontSize": 20, "titlePadding": 20, "titleLineHeight": 25, "labelFontSize": 22, "labelPadding": 2, "labelExpr": "replace(datum.label,'\u2212','-')"}}, "y2": {"field": "hi"}}},
      {"transform": [{"filter": "datum.s=='r'"}], "mark": {"type": "area", "color": "#ff0000", "opacity": 0.4, "clip": true}, "encoding": {"y": {"field": "lo", "type": "quantitative"}, "y2": {"field": "hi"}}},
      {"transform": [{"filter": "datum.s=='g'"}], "mark": {"type": "line", "color": "#00ff00", "strokeWidth": 3, "clip": true}, "encoding": {"y": {"field": "m", "type": "quantitative"}}},
      {"transform": [{"filter": "datum.s=='r'"}], "mark": {"type": "line", "color": "#ff0000", "strokeWidth": 3, "clip": true}, "encoding": {"y": {"field": "m", "type": "quantitative"}}},
      {"data": {"name": "sA"}, "mark": {"type": "rect", "color": "#808080"}, "encoding": {"x2": {"field": "t2"}, "y": {"datum": -4.6, "type": "quantitative"}, "y2": {"datum": -5.4}}},
      {"data": {"values": [{"t": 0}]}, "mark": {"type": "rule", "color": "black", "strokeWidth": 2},
       "encoding": {"x": {"field": "t", "type": "quantitative", "scale": {"domain": [-0.85, 0.85], "nice": false, "zero": false}, "axis": {"orient": "top", "labels": false, "ticks": false, "domain": false, "title": "V1", "titleFontSize": 29, "titlePadding": 32.5}}}}
     ],
     "resolve": {"axis": {"x": "independent"}}
    },
    {"width": 285, "height": 183, "title": {"text": "B", "dx": -30, "dy": 25.5},
     "data": {"name": "B"},
     "encoding": {"x": {"field": "t", "type": "quantitative", "scale": {"domain": [-0.85, 0.85], "nice": false, "zero": false}, "axis": null}},
     "layer": [
      {"transform": [{"filter": "datum.s=='g'"}], "mark": {"type": "area", "color": "#00ff00", "opacity": 0.4, "clip": true},
       "encoding": {"x": {"field": "t", "type": "quantitative", "scale": {"domain": [-0.85, 0.85], "nice": false, "zero": false}, "axis": {"values": [-0.8,-0.6,-0.4,-0.2,0,0.2,0.4,0.6,0.8], "labels": false, "title": null}},
        "y": {"field": "lo", "type": "quantitative", "scale": {"domain": [-6, 6], "nice": false, "zero": false}, "axis": {"values": [-4, 0, 4], "title": null, "labelFontSize": 22, "labelPadding": 2, "labelExpr": "replace(datum.label,'\u2212','-')"}}, "y2": {"field": "hi"}}},
      {"transform": [{"filter": "datum.s=='r'"}], "mark": {"type": "area", "color": "#ff0000", "opacity": 0.4, "clip": true}, "encoding": {"y": {"field": "lo", "type": "quantitative"}, "y2": {"field": "hi"}}},
      {"transform": [{"filter": "datum.s=='g'"}], "mark": {"type": "line", "color": "#00ff00", "strokeWidth": 3, "clip": true}, "encoding": {"y": {"field": "m", "type": "quantitative"}}},
      {"transform": [{"filter": "datum.s=='r'"}], "mark": {"type": "line", "color": "#ff0000", "strokeWidth": 3, "clip": true}, "encoding": {"y": {"field": "m", "type": "quantitative"}}},
      {"data": {"name": "sB"}, "mark": {"type": "rect", "color": "#808080"}, "encoding": {"x2": {"field": "t2"}, "y": {"datum": -4.6, "type": "quantitative"}, "y2": {"datum": -5.4}}},
      {"data": {"values": [{"t": 0}]}, "mark": {"type": "rule", "color": "black", "strokeWidth": 2},
       "encoding": {"x": {"field": "t", "type": "quantitative", "scale": {"domain": [-0.85, 0.85], "nice": false, "zero": false}, "axis": {"orient": "top", "labels": false, "ticks": false, "domain": false, "title": "V4", "titleFontSize": 29, "titlePadding": 32.5}}}}
     ],
     "resolve": {"axis": {"x": "independent"}}
    }
  ], "spacing": 68, "bounds": "flush"},
  {"hconcat": [
    {"width": 284, "height": 182, "title": {"text": "C", "dx": -120, "dy": -13},
     "data": {"name": "C"},
     "encoding": {"x": {"field": "t", "type": "quantitative", "scale": {"domain": [-0.85, 0.85], "nice": false, "zero": false}, "axis": {"values": [-0.8,-0.6,-0.4,-0.2,0,0.2,0.4,0.6,0.8], "title": "Time (sec)", "titlePadding": 6, "labelExpr": "round(datum.value*10)%4==0 ? (datum.value==0 ? '0' : replace(datum.label,'\u2212','-')) : ''"}}},
     "layer": [
      {"transform": [{"filter": "datum.s=='g'"}], "mark": {"type": "area", "color": "#00ff00", "opacity": 0.4, "clip": true},
       "encoding": {"y": {"field": "lo", "type": "quantitative", "scale": {"domain": [85, 135], "nice": false, "zero": false}, "axis": {"values": [90, 110, 130], "title": ["MS-Related", "Spike Rate", "(spikes/sec)"], "titlePadding": -11, "titleLineHeight": 25, "labelFontSize": 25, "labelPadding": 2}}, "y2": {"field": "hi"}}},
      {"transform": [{"filter": "datum.s=='r'"}], "mark": {"type": "area", "color": "#ff0000", "opacity": 0.4, "clip": true}, "encoding": {"y": {"field": "lo", "type": "quantitative"}, "y2": {"field": "hi"}}},
      {"transform": [{"filter": "datum.s=='g'"}], "mark": {"type": "line", "color": "#00ff00", "strokeWidth": 3, "clip": true}, "encoding": {"y": {"field": "m", "type": "quantitative"}}},
      {"transform": [{"filter": "datum.s=='r'"}], "mark": {"type": "line", "color": "#ff0000", "strokeWidth": 3, "clip": true}, "encoding": {"y": {"field": "m", "type": "quantitative"}}},
      {"data": {"name": "sC"}, "mark": {"type": "rect", "color": "#808080"}, "encoding": {"x2": {"field": "t2"}, "y": {"datum": 92.0, "type": "quantitative"}, "y2": {"datum": 88.9}}},
      {"data": {"values": [{"t": 0}]}, "mark": {"type": "rule", "color": "black", "strokeWidth": 2}, "encoding": {}}
     ]
    },
    {"width": 285, "height": 183, "title": {"text": "D", "dx": -31, "dy": -13},
     "data": {"name": "D"},
     "encoding": {"x": {"field": "t", "type": "quantitative", "scale": {"domain": [-0.85, 0.85], "nice": false, "zero": false}, "axis": {"values": [-0.8,-0.6,-0.4,-0.2,0,0.2,0.4,0.6,0.8], "title": "Time (sec)", "titlePadding": 6, "labelFontSize": 24, "labelExpr": "round(datum.value*10)%4==0 ? (datum.value==0 ? '0' : replace(datum.label,'\u2212','-')) : ''"}}},
     "layer": [
      {"transform": [{"filter": "datum.s=='g'"}], "mark": {"type": "area", "color": "#00ff00", "opacity": 0.4, "clip": true},
       "encoding": {"y": {"field": "lo", "type": "quantitative", "scale": {"domain": [13.35, 26.5], "nice": false, "zero": false}, "axis": {"values": [15, 20, 25], "title": null, "labelPadding": 2}}, "y2": {"field": "hi"}}},
      {"transform": [{"filter": "datum.s=='r'"}], "mark": {"type": "area", "color": "#ff0000", "opacity": 0.4, "clip": true}, "encoding": {"y": {"field": "lo", "type": "quantitative"}, "y2": {"field": "hi"}}},
      {"transform": [{"filter": "datum.s=='g'"}], "mark": {"type": "line", "color": "#00ff00", "strokeWidth": 3, "clip": true}, "encoding": {"y": {"field": "m", "type": "quantitative"}}},
      {"transform": [{"filter": "datum.s=='r'"}], "mark": {"type": "line", "color": "#ff0000", "strokeWidth": 3, "clip": true}, "encoding": {"y": {"field": "m", "type": "quantitative"}}},
      {"data": {"name": "sD"}, "mark": {"type": "rect", "color": "#808080"}, "encoding": {"x2": {"field": "t2"}, "y": {"datum": 14.78, "type": "quantitative"}, "y2": {"datum": 13.73}}},
      {"data": {"values": [{"t": 0}]}, "mark": {"type": "rule", "color": "black", "strokeWidth": 2}, "encoding": {}}
     ]
    }
  ], "spacing": 69, "bounds": "flush"},
  {"hconcat": [
    {"width": 283, "height": 147, "title": {"text": "E", "dx": -120, "dy": -12.5},
     "data": {"name": "E"},
     "encoding": {"x": {"field": "t", "type": "quantitative", "scale": {"domain": [-0.8, 0.01], "nice": false, "zero": false}, "axis": null}},
     "layer": [
      {"transform": [{"filter": "datum.s=='r'"}], "mark": {"type": "area", "interpolate": "step-after", "color": "#ff0000"},
       "encoding": {"x": {"field": "t", "type": "quantitative", "scale": {"domain": [-0.8, 0.01], "nice": false, "zero": false}, "axis": {"values": [-0.8,-0.6,-0.4,-0.2,0], "domain": false, "title": "Time (sec)", "titlePadding": 8, "labelPadding": 1, "labelExpr": "datum.value==0 ? '0' : replace(datum.label,'\u2212','-')"}},
        "y": {"field": "v", "type": "quantitative", "scale": {"domain": [-0.87, 4], "reverse": true, "nice": false, "zero": false}, "axis": {"values": [0, 2, 4], "title": ["MS", "Probability"], "titlePadding": 22, "titleLineHeight": 25, "labelPadding": 2}}, "y2": {"datum": 4}}},
      {"transform": [{"filter": "datum.s=='b'"}], "mark": {"type": "area", "interpolate": "step-after", "color": "#1e1a8a"},
       "encoding": {"x": {"field": "t", "type": "quantitative", "scale": {"domain": [-0.8, 0.01], "nice": false, "zero": false}, "axis": {"orient": "top", "labels": false, "ticks": false, "domain": false, "title": "x 10\u207b\u00b3", "titleFontSize": 21, "titleAnchor": "start", "titleAlign": "left", "titleX": 14, "titleY": 16, "titleBaseline": "alphabetic"}},
        "y": {"field": "v", "type": "quantitative"}, "y2": {"datum": 4}}}
     ],
     "resolve": {"axis": {"x": "independent"}}
    },
    {"width": 216, "height": 158, "title": {"text": "F", "dx": -104, "dy": -12.5},
     "data": {"name": "F"},
     "encoding": {"x": {"field": "t", "type": "quantitative", "scale": {"domain": [-0.8, 0], "nice": false, "zero": false}, "axis": {"values": [-0.8,-0.6,-0.4,-0.2,0], "title": "Time (sec)", "titlePadding": 6, "labelFontSize": 24, "labelExpr": "round(datum.value*10)%4==0 ? (datum.value==0 ? '0' : replace(datum.label,'\u2212','-')) : ''"}}},
     "layer": [
      {"transform": [{"filter": "datum.s=='g'"}], "mark": {"type": "area", "color": "#00ff00", "opacity": 0.4, "clip": true},
       "encoding": {"y": {"field": "lo", "type": "quantitative", "scale": {"domain": [13.95, 19.95], "nice": false, "zero": false}, "axis": {"values": [15.5, 17.5, 19.5], "format": ".1f", "title": ["MS-Related", "Spike Rate", "(spikes/sec)"], "titleFontSize": 22, "titlePadding": -6, "titleLineHeight": 28, "labelFontSize": 22, "labelPadding": 2}}, "y2": {"field": "hi"}}},
      {"transform": [{"filter": "datum.s=='r'"}], "mark": {"type": "area", "color": "#ff0000", "opacity": 0.4, "clip": true}, "encoding": {"y": {"field": "lo", "type": "quantitative"}, "y2": {"field": "hi"}}},
      {"transform": [{"filter": "datum.s=='g'"}], "mark": {"type": "line", "color": "#00ff00", "strokeWidth": 3, "clip": true}, "encoding": {"y": {"field": "m", "type": "quantitative"}}},
      {"transform": [{"filter": "datum.s=='r'"}], "mark": {"type": "line", "color": "#ff0000", "strokeWidth": 3, "clip": true}, "encoding": {"y": {"field": "m", "type": "quantitative"}}},
      {"data": {"name": "sF"}, "mark": {"type": "rect", "color": "#808080"}, "encoding": {"x2": {"field": "t2"}, "y": {"datum": 14.72, "type": "quantitative"}, "y2": {"datum": 14.13}}}
     ]
    }
  ], "spacing": 143, "bounds": "flush", "center": true}
],
"spacing": 15.5
}
